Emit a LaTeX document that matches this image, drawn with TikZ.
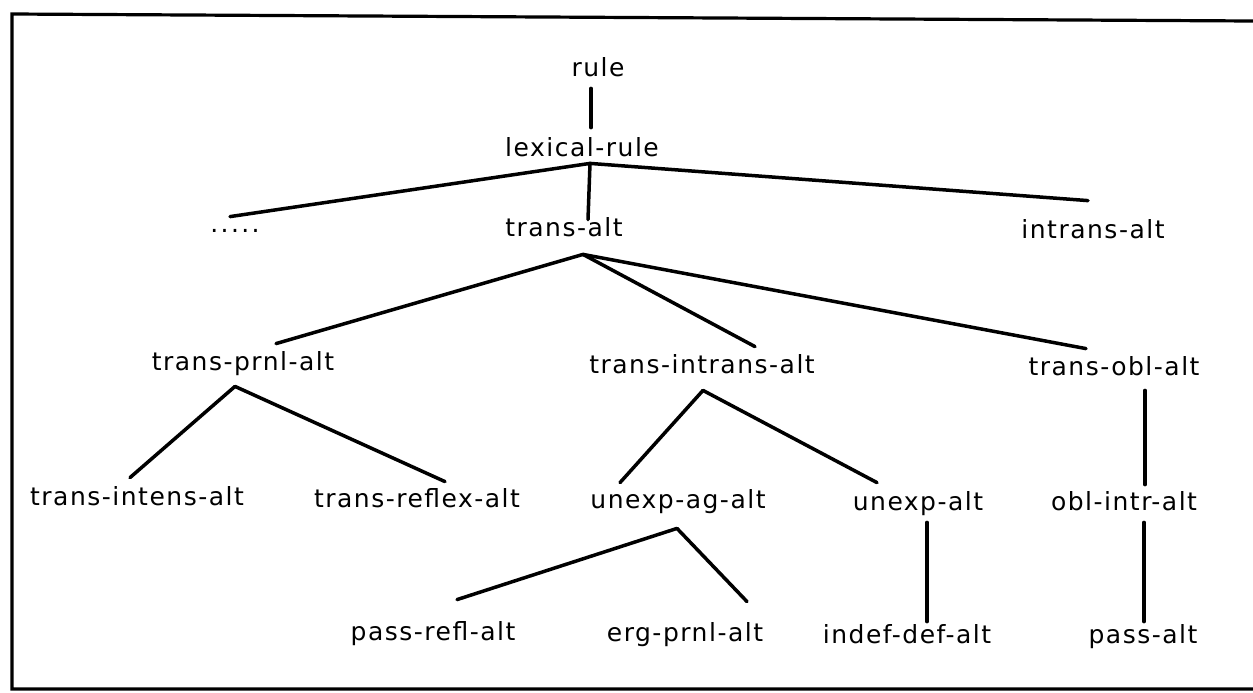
\documentclass[tikz,border=0pt]{standalone}
\usepackage{fontspec}
\setmainfont{DejaVu Sans}[LetterSpace=6]
\begin{document}
\begin{tikzpicture}[x=0.5pt,y=-0.5pt,
  lbl/.style={inner sep=0pt,anchor=base,text height=9pt,text depth=3pt,font=\fontsize{12.5}{14}\selectfont},
  edge/.style={line width=1.75pt,line cap=round},
  frame/.style={line width=1.6pt}]
\useasboundingbox (0,0) rectangle (1253,692);
\clip (0,0) rectangle (1253,692);
\draw[frame] (1253,21) -- (12,14) -- (12,689) -- (1253,689);
% nodes
\node[lbl] (rule) at (598,76) {rule};
\node[lbl] (lex) at (582,156) {lexical-rule};
\node[lbl] (dots) at (235,232) {.\kern1.2pt.\kern1.2pt.\kern1.2pt.\kern1.2pt.};
\node[lbl] (ta) at (564,236) {trans-alt};
\node[lbl] (ia) at (1093,238) {intrans-alt};
\node[lbl] (tpa) at (243,370) {trans-prnl-alt};
\node[lbl] (tia) at (702,373) {trans-intrans-alt};
\node[lbl] (toa) at (1114,375) {trans-obl-alt};
\node[lbl] (tina) at (137,505) {trans-intens-alt};
\node[lbl] (tra) at (417,507) {trans-reflex-alt};
\node[lbl] (uaa) at (678,508) {unexp-ag-alt};
\node[lbl] (ua) at (918,510) {unexp-alt};
\node[lbl] (oia) at (1124,510) {obl-intr-alt};
\node[lbl] (pra) at (433,640) {pass-refl-alt};
\node[lbl] (epa) at (685,641) {erg-prnl-alt};
\node[lbl] (ida) at (907,643) {indef-def-alt};
\node[lbl] (pa) at (1143,643) {pass-alt};
% connectors
\draw[edge] ([shift={(-7,6)}]rule.south) -- ([shift={(9,-10)}]lex.north);
\draw[edge] ([shift={(8,1)}]lex.south) -- ([shift={(-5,3)}]dots.north);
\draw[edge] ([shift={(8,1)}]lex.south) -- ([shift={(24,2)}]ta.north);
\draw[edge] ([shift={(8,1)}]lex.south) -- ([shift={(-5,-19)}]ia.north);
\draw[edge] ([shift={(19,12)}]ta.south) -- ([shift={(33,-8)}]tpa.north);
\draw[edge] ([shift={(19,12)}]ta.south) -- ([shift={(53,-8)}]tia.north);
\draw[edge] ([shift={(19,12)}]ta.south) -- ([shift={(-28,-8)}]toa.north);
\draw[edge] ([shift={(-8,10)}]tpa.south) -- ([shift={(-7,-9)}]tina.north);
\draw[edge] ([shift={(-8,10)}]tpa.south) -- ([shift={(28,-7)}]tra.north);
\draw[edge] ([shift={(1,11)}]tia.south) -- ([shift={(-58,-7)}]uaa.north);
\draw[edge] ([shift={(1,11)}]tia.south) -- ([shift={(-41,-9)}]ua.north);
\draw[edge] ([shift={(31,9)}]toa.south) -- ([shift={(21,-7)}]oia.north);
\draw[edge] ([shift={(-1,14)}]uaa.south) -- ([shift={(24,-22)}]pra.north);
\draw[edge] ([shift={(-1,14)}]uaa.south) -- ([shift={(62,-21)}]epa.north);
\draw[edge] ([shift={(9,6)}]ua.south) -- ([shift={(20,-3)}]ida.north);
\draw[edge] ([shift={(20,6)}]oia.south) -- ([shift={(1,-3)}]pa.north);
\end{tikzpicture}
\end{document}
